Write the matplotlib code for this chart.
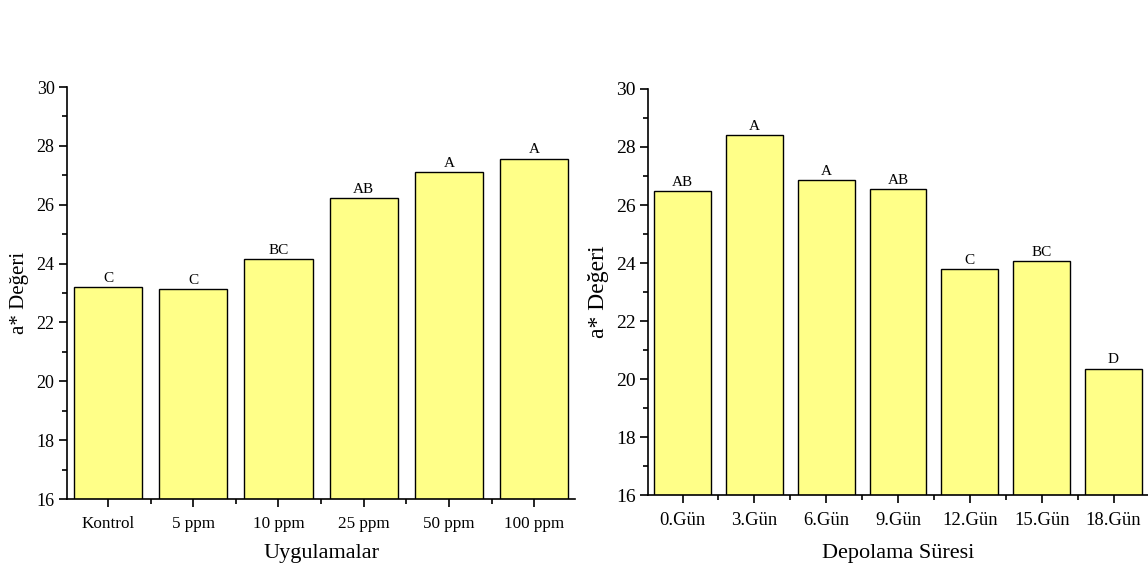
import matplotlib
matplotlib.use('Agg')
import matplotlib.pyplot as plt
import numpy as np

plt.rcParams['font.family'] = ['Liberation Serif', 'DejaVu Serif']

# left panel: treatments
treatments = ['Kontrol', '5 ppm', '10 ppm', '25 ppm', '50 ppm', '100 ppm']
treat_values = [23.20, 23.14, 24.15, 26.23, 27.11, 27.57]
treat_letters = ['C', 'C', 'BC', 'AB', 'A', 'A']

# right panel: storage time
days = ['0.Gün', '3.Gün', '6.Gün', '9.Gün', '12.Gün', '15.Gün', '18.Gün']
day_values = [26.47, 28.40, 26.85, 26.55, 23.78, 24.07, 20.36]
day_letters = ['AB', 'A', 'A', 'AB', 'C', 'BC', 'D']

bar_color = '#FFFF88'

fig = plt.figure(figsize=(11.48, 5.69), dpi=100)
ax1 = fig.add_axes([0.0584, 0.123, 0.4425, 0.724])
ax2 = fig.add_axes([0.5645, 0.130, 0.4355, 0.7136])


def draw_panel(ax, cats, vals, letters, width, xlabel, xtick_fs, ytick_fs, ylab_fs, xlab_pad):
    x = np.arange(len(cats))
    bars = ax.bar(x, vals, width=width, bottom=0, color=bar_color,
                  edgecolor='black', linewidth=1.0, zorder=2)
    for b, lab in zip(bars, letters):
        ax.text(b.get_x() + b.get_width() / 2, b.get_height() + 0.08, lab,
                ha='center', va='bottom', fontsize=11)
    ax.set_ylim(16, 30)
    ax.set_xlim(-0.48, len(cats) - 0.52)
    ax.set_yticks(np.arange(16, 31, 2))
    ax.set_yticks(np.arange(17, 30, 2), minor=True)
    ax.set_xticks(x)
    ax.set_xticks(np.arange(len(cats) - 1) + 0.5, minor=True)
    ax.set_xticklabels(cats, fontsize=xtick_fs)
    ax.tick_params(axis='y', labelsize=ytick_fs, pad=3)
    ax.tick_params(which='major', direction='out', length=6, width=1.2)
    ax.tick_params(which='minor', direction='out', length=3.5, width=1.2)
    ax.tick_params(axis='x', pad=6)
    for s in ['top', 'right']:
        ax.spines[s].set_visible(False)
    for s in ['left', 'bottom']:
        ax.spines[s].set_linewidth(1.2)
    ax.set_xlabel(xlabel, fontsize=16, labelpad=xlab_pad)
    ax.set_ylabel('a* Değeri', fontsize=ylab_fs, labelpad=5)


draw_panel(ax1, treatments, treat_values, treat_letters, 0.8, 'Uygulamalar', 12.3, 13, 15, 9)
draw_panel(ax2, days, day_values, day_letters, 0.79, 'Depolama Süresi', 13.4, 14, 17, 11)
ax2.spines['bottom'].set_bounds(-0.48, len(days) - 0.52)

fig.savefig('out.png', dpi=100)
